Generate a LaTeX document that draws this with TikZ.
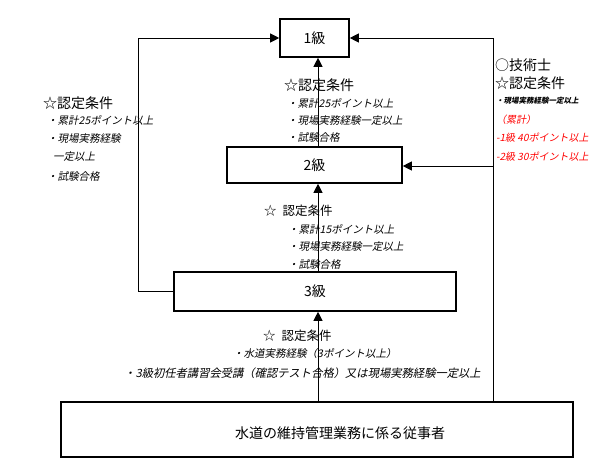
\documentclass[tikz,border=0pt]{standalone}
\usepackage{fontspec}
\setmainfont{Noto Sans CJK JP}
\newfontfamily\jpit[FakeSlant=0.2]{Noto Sans CJK JP}
\usetikzlibrary{arrows.meta}
\begin{document}
\begin{tikzpicture}[x=1pt,y=-1pt,
  box/.style={draw,line width=1.6pt,inner sep=0pt,font=\fontsize{14}{16}\selectfont},
  conn/.style={line width=0.8pt},
  arr/.style={conn,-{Triangle[length=9pt,width=9pt]}},
  head/.style={anchor=west,inner sep=0pt,font=\fontsize{14}{16}\selectfont},
  heads/.style={anchor=west,inner sep=0pt,font=\fontsize{12.5}{15}\selectfont},
  item/.style={anchor=west,inner sep=0pt,font=\jpit\fontsize{10.5}{12}\selectfont},
  small/.style={anchor=west,inner sep=0pt,font=\jpit\bfseries\fontsize{7.5}{9}\selectfont},
  reditem/.style={anchor=west,inner sep=0pt,text=red,font=\jpit\fontsize{10}{12}\selectfont}]
\useasboundingbox (0,0) rectangle (594,476);

% boxes
\node[box,minimum width=69pt,minimum height=38pt] (b1) at (314.5,38) {1級};
\node[box,minimum width=175pt,minimum height=36pt] (b2) at (314.5,165) {2級};
\node[box,minimum width=282pt,minimum height=39pt] (b3) at (315,291.5) {3級};
\node[box,minimum width=512pt,minimum height=55pt] (b4) at (317,429.5) {};
\node[inner sep=0pt,font=\fontsize{14}{16}\selectfont] (t4) at (340,433) {水道の維持管理業務に係る従事者};

% connectors
\coordinate (sp) at (318,0);
\coordinate (rx) at (493,0);
\coordinate (br) at (493,166);
\draw[arr] (b4.north -| sp) -- (b3.south -| sp);
\draw[arr] (b3.north -| sp) -- (b2.south -| sp);
\draw[arr] (b2.north -| sp) -- (b1.south -| sp);
\draw[arr] (b3.west) -- ++(-35,0) |- (b1.west);
\draw[arr] (b4.north -| rx) |- (b1.east);
\draw[arr] (br) -- (b2.east |- br);

% left conditions
\node[head] (l0) at (43,103) {☆認定条件};
\node[item] (l1) at (47,120) {・累計25ポイント以上};
\node[item] (l2) at (47,139) {・現場実務経験};
\node[item] (l3) at (53,157) {一定以上};
\node[item] (l4) at (47,177) {・試験合格};

% middle 1
\node[head] (m0) at (284,85) {☆認定条件};
\node[item] (m1) at (287,103) {・累計25ポイント以上};
\node[item] (m2) at (287,121) {・現場実務経験一定以上};
\node[item] (m3) at (287,138) {・試験合格};

% right
\node[head] (r0) at (495,65) {○技術士};
\node[head] (r1) at (495,83) {☆認定条件};
\node[small] (r2) at (496,101) {・現場実務経験一定以上};
\node[reditem] (r3) at (496,120) {（累計）};
\node[reditem] (r4) at (496,138) {-1級 40ポイント以上};
\node[reditem] (r5) at (496,157) {-2級 30ポイント以上};

% middle 2
\node[heads] (n0) at (264,211) {☆\hspace{6pt}認定条件};
\node[item] (n1) at (288,229) {・累計15ポイント以上};
\node[item] (n2) at (288,247) {・現場実務経験一定以上};
\node[item] (n3) at (288,265) {・試験合格};

% middle 3
\node[heads] (p0) at (263,336) {☆\hspace{6pt}認定条件};
\node[item] (p1) at (233,354) {・水道実務経験（3ポイント以上）};
\node[item,font=\jpit\fontsize{11.3}{13}\selectfont] (p2) at (124,373) {・3級初任者講習会受講（確認テスト合格）又は現場実務経験一定以上};
\end{tikzpicture}
\end{document}
